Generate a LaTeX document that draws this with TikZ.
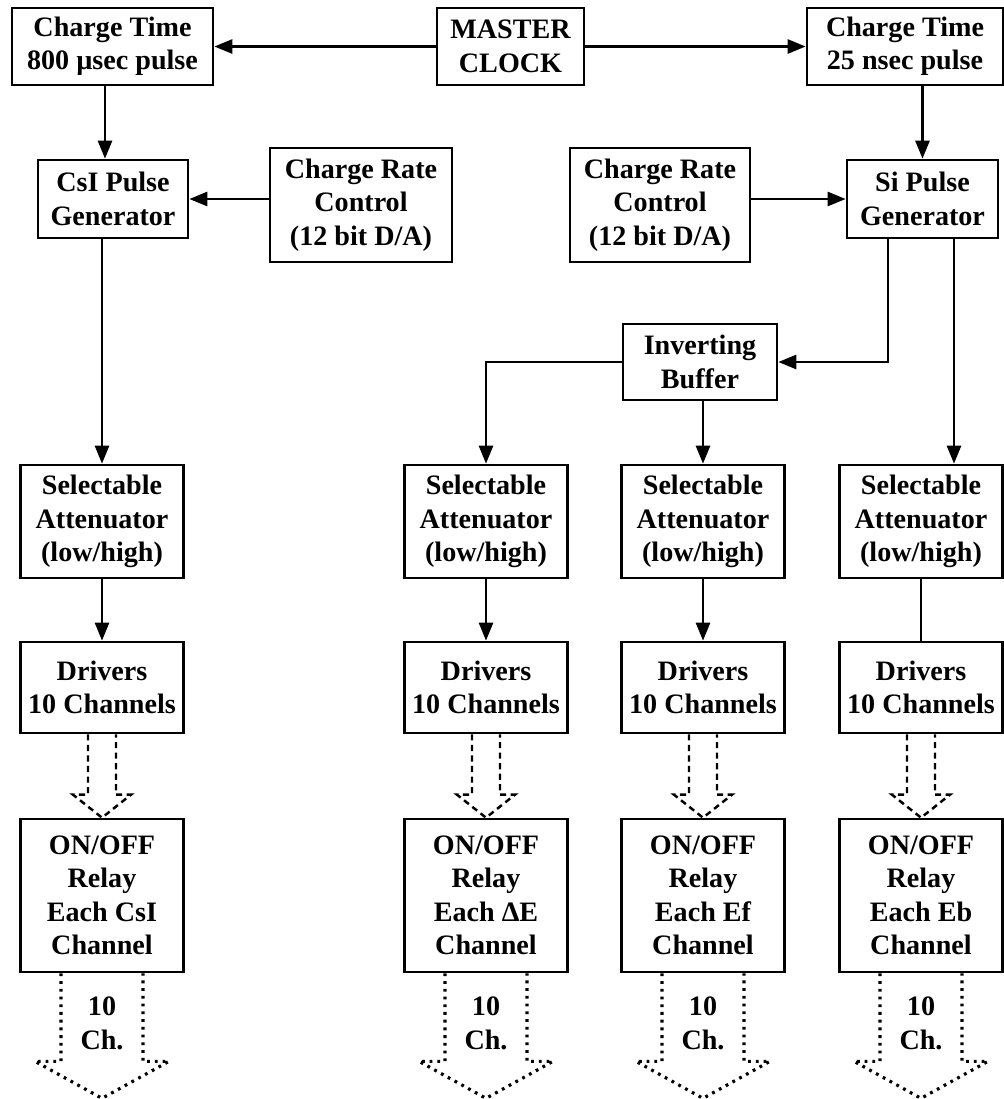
\documentclass[tikz,border=0pt]{standalone}
\usepackage{fontspec}
\setmainfont{Liberation Serif}
\usetikzlibrary{arrows.meta,calc}

\begin{document}
\begin{tikzpicture}[
  x=0.2mm, y=-0.2mm,
  font=\fontsize{16}{19}\selectfont\bfseries,
  blk/.style={draw, line width=1.5pt, align=center, inner sep=0pt},
  colbox/.style={blk, minimum width=3.26cm},
  arrow/.style={-{Triangle[length=3.6mm,width=2.8mm]}, line width=1.5pt},
  link/.style={line width=1.5pt},
  bus/.style={line width=1.4pt, dash pattern=on 3.5pt off 2.5pt},
  outbus/.style={line width=1.8pt, dash pattern=on 1.6pt off 2.8pt}
]
\useasboundingbox (0,0) rectangle (1004,1099);

% clock and charge time
\node[blk, minimum width=4.02cm, minimum height=1.54cm] (ct800) at (112.5,46.5) {Charge Time\\800 µsec pulse};
\node[blk, minimum width=2.94cm, minimum height=1.54cm] (master) at (510.5,46.5) {MASTER\\CLOCK};
\node[blk, minimum width=3.92cm, minimum height=1.54cm] (ct25) at (905,46.5) {Charge Time\\25 nsec pulse};

% pulse generators
\node[blk, minimum width=3.0cm, minimum height=1.56cm] (csi) at (113,199) {CsI Pulse\\Generator};
\node[blk, minimum width=3.64cm, minimum height=2.28cm] (crcl) at (361,205) {Charge Rate\\Control\\(12 bit D/A)};
\node[blk, minimum width=3.6cm, minimum height=2.28cm] (crcr) at (660,205) {Charge Rate\\Control\\(12 bit D/A)};
\node[blk, minimum width=3.02cm, minimum height=1.56cm] (si) at (922.5,199) {Si Pulse\\Generator};
\node[blk, minimum width=3.08cm, minimum height=1.52cm] (buf) at (700,362) {Inverting\\Buffer};

% one column per detector
\foreach \c/\xc/\det in {1/102/CsI, 2/486/ΔE, 3/703/Ef, 4/921/Eb} {
  \node[colbox, minimum height=2.26cm] (att\c) at (\xc,521.5) {Selectable\\Attenuator\\(low/high)};
  \node[colbox, minimum height=1.82cm] (drv\c) at (\xc,687.5) {Drivers\\10 Channels};
  \node[colbox, minimum height=3.06cm] (rel\c) at (\xc,895.5) {ON/OFF\\Relay\\Each \det\\Channel};
  \coordinate (tip\c) at ([yshift=-2.5cm]rel\c.south);
  \node[align=center] (lbl\c) at ([yshift=-1.0cm]rel\c.south) {10\\Ch.};
  % hollow dashed bus arrow
  \draw[bus] ([xshift=-0.28cm]drv\c.south) -- ([xshift=-0.28cm,yshift=0.46cm]rel\c.north)
    -- ([xshift=-0.58cm,yshift=0.46cm]rel\c.north) -- (rel\c.north)
    -- ([xshift=0.58cm,yshift=0.46cm]rel\c.north) -- ([xshift=0.28cm,yshift=0.46cm]rel\c.north)
    -- ([xshift=0.28cm]drv\c.south);
  % hollow dotted output arrow
  \draw[outbus] ([xshift=-0.82cm]rel\c.south) -- ([xshift=-0.82cm,yshift=0.74cm]tip\c)
    -- ([xshift=-1.34cm,yshift=0.74cm]tip\c) -- (tip\c)
    -- ([xshift=1.34cm,yshift=0.74cm]tip\c) -- ([xshift=0.82cm,yshift=0.74cm]tip\c)
    -- ([xshift=0.82cm]rel\c.south);
}

% connections
\draw[arrow] (master) -- (ct800);
\draw[arrow] (master) -- (ct25);
\draw[arrow] ([xshift=-0.15cm]ct800.south) -- ([xshift=-0.15cm]ct800.south |- csi.north);
\draw[arrow] (ct25.south -| si.north) -- (si.north);
\draw[arrow] (crcl.west |- csi.east) -- (csi.east);
\draw[arrow] (crcr.east |- si.west) -- (si.west);
\draw[arrow] (csi.south -| att1.north) -- (att1.north);
\draw[arrow] ([xshift=-0.69cm]si.south) |- (buf.east);
\draw[arrow] ([xshift=0.63cm]si.south) -- ([xshift=0.63cm]si.south |- att4.north);
\draw[arrow] (buf.west) -| (att2.north);
\draw[arrow] (buf.south -| att3.north) -- (att3.north);
\draw[arrow] (att1) -- (drv1);
\draw[arrow] (att2) -- (drv2);
\draw[arrow] (att3) -- (drv3);
\draw[link] (att4) -- (drv4);
\end{tikzpicture}
\end{document}
